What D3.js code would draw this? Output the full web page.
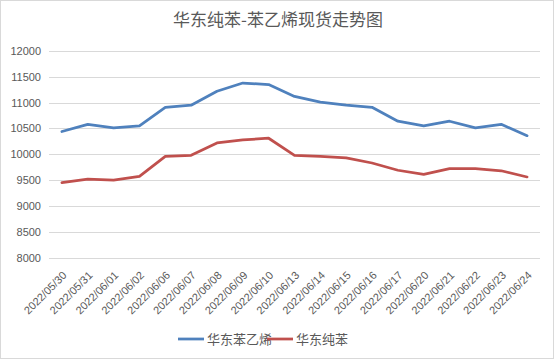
<!DOCTYPE html>
<html><head><meta charset="utf-8">
<script src="https://cdn.jsdelivr.net/npm/d3@7"></script>
<style>body{margin:0;background:#fff}svg{display:block}</style>
</head><body>
<script>
const categories = ["2022/05/30","2022/05/31","2022/06/01","2022/06/02","2022/06/06","2022/06/07","2022/06/08","2022/06/09","2022/06/10","2022/06/13","2022/06/14","2022/06/15","2022/06/16","2022/06/17","2022/06/20","2022/06/21","2022/06/22","2022/06/23","2022/06/24"];
const styrene = [10440,10580,10510,10550,10910,10950,11220,11380,11350,11120,11010,10950,10910,10640,10550,10640,10510,10580,10360];
const benzene = [9450,9520,9500,9570,9960,9980,10220,10280,10310,9980,9960,9930,9830,9690,9610,9720,9720,9680,9560];
const yTicks = [8000,8500,9000,9500,10000,10500,11000,11500,12000];
const seriesNames = ["华东苯乙烯","华东纯苯"];
const colors = ["#4F81BD","#C0504D"];
const title = "华东纯苯-苯乙烯现货走势图";

(function(){
const W=556,H=360;
const svg=d3.select("body").append("svg").attr("width",W).attr("height",H);
const font="'Microsoft YaHei','Noto Sans CJK SC','Liberation Sans',sans-serif";
svg.append("rect").attr("x",0.5).attr("y",0.5).attr("width",W-3).attr("height",H-2).attr("fill","#fff").attr("stroke","#d9d9d9");

const pL=49,pR=540,pT=51,pB=257.5;
const x=d3.scaleBand().domain(categories).range([pL,pR]);
const y=d3.scaleLinear().domain([8000,12000]).range([pB,pT]);

svg.append("text").attr("x",W/2).attr("y",26).attr("text-anchor","middle")
  .attr("font-family",font).attr("font-size",17).attr("fill","#595959").text(title);

const g=svg.append("g");
g.selectAll("line.grid").data(yTicks).join("line").attr("class","grid")
  .attr("x1",pL).attr("x2",pR).attr("y1",d=>Math.round(y(d))+0.5).attr("y2",d=>Math.round(y(d))+0.5)
  .attr("stroke","#d9d9d9").attr("stroke-width",1);
g.selectAll("text.yl").data(yTicks).join("text").attr("class","yl")
  .attr("x",41).attr("y",d=>y(d)+4).attr("text-anchor","end")
  .attr("font-family","'Liberation Sans',Arial,sans-serif").attr("font-size",11).attr("fill","#595959").text(d=>d);

g.selectAll("text.xl").data(categories).join("text").attr("class","xl")
  .attr("transform",d=>`translate(${x(d)+x.bandwidth()/2+5.5},${pB+18.5}) rotate(-45)`)
  .attr("text-anchor","end")
  .attr("font-family","'Liberation Sans',Arial,sans-serif").attr("font-size",11).attr("fill","#595959").text(d=>d);

const line=d3.line().x((d,i)=>x(categories[i])+x.bandwidth()/2).y(d=>y(d));
[styrene,benzene].forEach((s,k)=>{
  g.append("path").datum(s).attr("d",line).attr("fill","none").attr("stroke",colors[k])
   .attr("stroke-width",2.75).attr("stroke-linejoin","round").attr("stroke-linecap","round");
});

const leg=svg.append("g");
const legX=[178,267];
seriesNames.forEach((n,k)=>{
  leg.append("line").attr("x1",legX[k]).attr("x2",legX[k]+26).attr("y1",339).attr("y2",339)
    .attr("stroke",colors[k]).attr("stroke-width",2.75);
  leg.append("text").attr("x",legX[k]+29).attr("y",344).attr("font-family",font)
    .attr("font-size",13).attr("fill","#595959").text(n);
});
})();
</script>
</body></html>
